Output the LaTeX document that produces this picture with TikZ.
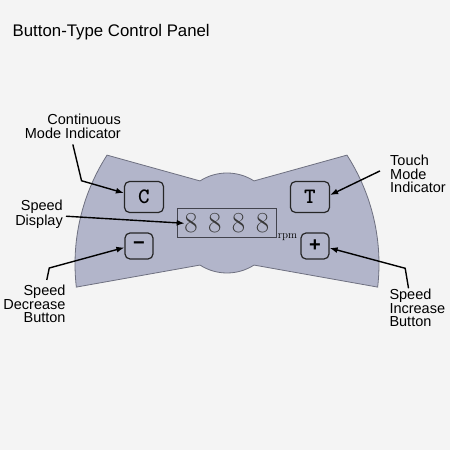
\documentclass[tikz,border=0pt]{standalone}
\usepackage{fontspec}
\usepackage{amsmath}
\usepackage{tikz}
\usetikzlibrary{arrows.meta,positioning,calc}
\newfontfamily\arialfont{Liberation Sans}
\newfontfamily\keyfont{lmmonolt10-bold}[Extension=.otf]
\definecolor{cpBack}{HTML}{F4F4F4}
\definecolor{cpPanel}{HTML}{B2B5CA}
\definecolor{cpEdge}{HTML}{6E7080}
\definecolor{cpInk}{HTML}{262626}
\definecolor{cpDigit}{HTML}{383838}

\begin{document}
\begin{tikzpicture}[x=1pt,y=1pt,
    lbl/.style={font=\arialfont\fontsize{14.5}{13.4}\selectfont,inner sep=0pt},
    btn/.style={draw=cpInk,fill=cpPanel,line width=1.2pt,rounded corners=5pt,inner sep=0pt,
                minimum width=39pt,minimum height=31pt,font=\keyfont\fontsize{22}{22}\selectfont},
    sgn/.style={btn,minimum width=28pt,minimum height=26pt,font=\arialfont\bfseries\fontsize{20}{20}\selectfont},
    lcd/.style={draw=cpEdge!60!black,line width=1.1pt,minimum width=99pt,minimum height=29pt,inner sep=0pt,
                text=cpDigit,font=\fontsize{29}{29}\selectfont},
    arr/.style={-{Latex[length=8pt,width=6pt]},black,line width=1.4pt}]

  \fill[cpBack] (0,0) rectangle (450,450);
  \coordinate (lc) at (276,186);
  \coordinate (rc) at (178,186);
  \coordinate (hub) at (227,227);
  \draw[fill=cpPanel,draw=cpEdge,line width=0.8pt]
    ($(lc)+(147.2:201)$) arc[start angle=147.2,end angle=186.6,radius=201]
    -- ($(hub)+(237.3:50)$) arc[start angle=237.3,end angle=302.7,radius=50]
    -- ($(rc)+(-6.6:201)$) arc[start angle=-6.6,end angle=32.8,radius=201]
    -- ($(hub)+(57.3:50)$) arc[start angle=57.3,end angle=122.7,radius=50]
    -- cycle;

  \node[anchor=base west,inner sep=0pt,font=\arialfont\fontsize{16.8}{20}\selectfont] (title) at (12.5,413.3) {Button-Type Control Panel};

  \node[btn] (C) at (144,253) {C};
  \node[btn] (T) at (310,253) {T};
  \node[sgn] (minus) at (139,204) {−};
  \node[sgn] (plus) at (315,204) {+};
  \node[lcd] (disp) at (226.7,226.7) {8\hspace{10.5pt}8\hspace{10.5pt}8\hspace{10.5pt}8};
  \node[anchor=base west,inner sep=0pt,font=\fontsize{11}{11}\selectfont] (rpm) at ([xshift=1]disp.south east) {rpm};

  \node[lbl,align=right,anchor=north east] (cmi) at (121,336) {Continuous\\Mode Indicator};
  \node[lbl,align=right,anchor=north east] (sd) at (63,250) {Speed\\Display};
  \node[lbl,align=right,anchor=north east] (sdb) at (65.7,165) {Speed\\Decrease\\Button};
  \node[lbl,align=left,anchor=north west] (tmi) at (390,295) {Touch\\Mode\\Indicator};
  \node[lbl,align=left,anchor=north west] (sib) at (389.3,161) {Speed\\Increase\\Button};

  \draw[arr] ([yshift=-6]cmi.south) -- ++(8.7,-36.3) -- ([yshift=4]C.west);
  \draw[arr] ([shift={(3,-2)}]sd.east) -- ([xshift=8]disp.west);
  \draw[arr] ([shift={(12.3,5)}]sdb.north) -- ++(2.5,12) -- ([yshift=-1.5]minus.west);
  \draw[arr] ([shift={(-10,3)}]tmi.west) -- ([yshift=2]T.east);
  \draw[arr] ([shift={(-8.8,0.7)}]sib.north) -- ++(-3.3,20) -- ([yshift=-2]plus.east);
\end{tikzpicture}
\end{document}
